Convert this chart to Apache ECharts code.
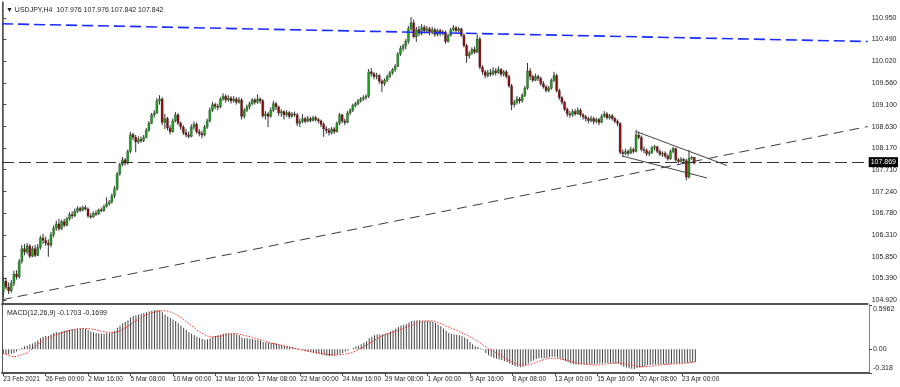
<!DOCTYPE html>
<html><head><meta charset="utf-8">
<script src="https://cdn.jsdelivr.net/npm/echarts@6/dist/echarts.min.js"></script>
<style>html,body{margin:0;padding:0;background:#fff}#c{width:900px;height:387px}</style>
</head><body><div id="c"></div>
<script>
// ---- data ----
const opens = [
105.10,105.33,105.20,105.12,105.28,105.48,105.42,105.75,106.02,105.95,
106.08,105.86,106.02,105.88,106.05,106.25,106.20,106.14,106.10,106.32,
106.46,106.55,106.45,106.60,106.52,106.66,106.75,106.72,106.82,106.88,
106.84,106.90,106.87,106.72,106.70,106.78,106.76,106.85,106.83,106.92,
106.98,107.02,107.15,107.30,107.62,107.82,107.92,107.85,108.10,108.46,
108.40,108.30,108.36,108.33,108.40,108.55,108.70,108.88,108.92,109.18,
109.22,108.72,108.80,108.60,108.52,108.75,108.88,108.70,108.62,108.50,
108.45,108.42,108.62,108.68,108.52,108.48,108.45,108.62,108.75,108.98,
109.10,109.06,109.05,109.22,109.28,109.20,109.24,109.18,109.22,109.15,
109.20,108.85,108.98,109.05,109.12,109.20,109.15,109.22,109.18,108.86,
108.90,108.85,108.98,109.12,109.05,108.92,108.95,108.88,108.93,108.85,
108.90,108.88,108.70,108.74,108.80,108.74,108.80,108.76,108.82,108.78,
108.75,108.68,108.58,108.55,108.50,108.58,108.52,108.70,108.88,108.75,
108.72,108.92,108.98,109.08,109.12,109.18,109.22,109.25,109.28,109.80,
109.76,109.70,109.72,109.60,109.55,109.62,109.70,109.78,109.85,109.92,
110.18,110.30,110.35,110.45,110.72,110.85,110.55,110.70,110.62,110.75,
110.68,110.72,110.64,110.70,110.60,110.68,110.62,110.65,110.45,110.58,
110.70,110.74,110.68,110.72,110.58,110.36,110.14,110.20,110.28,110.22,
110.50,109.90,109.80,109.72,109.78,109.75,109.82,109.78,109.85,109.75,
109.80,109.70,109.50,109.10,109.15,109.22,109.18,109.30,109.45,109.82,
109.70,109.62,109.70,109.66,109.55,109.48,109.40,109.45,109.62,109.72,
109.40,109.25,109.15,109.00,108.90,108.88,108.95,108.90,108.98,108.88,
108.84,108.80,108.76,108.80,108.74,108.78,108.72,108.85,108.90,108.82,
108.86,108.80,108.74,108.70,108.08,108.05,108.10,108.06,108.14,108.10,
108.45,108.40,108.14,108.12,108.05,108.08,108.18,108.20,108.10,108.04,
108.06,108.00,107.94,108.10,108.16,107.92,107.88,107.93,107.90,107.55,
107.95,107.976];
const highs = [
105.42,105.40,105.30,105.35,105.55,105.56,105.80,106.10,106.12,106.14,
106.12,106.08,106.10,106.12,106.30,106.34,106.28,106.22,106.38,106.52,
106.62,106.66,106.64,106.66,106.70,106.80,106.82,106.88,106.93,106.92,
106.94,106.95,106.90,106.78,106.82,106.84,106.88,106.90,106.96,107.12,
107.06,107.20,107.36,107.66,107.86,107.98,107.96,108.14,108.52,108.50,
108.45,108.42,108.42,108.45,108.60,108.75,108.92,108.98,109.24,109.30,
109.26,108.90,108.84,108.66,108.80,108.94,108.92,108.74,108.66,108.58,
108.52,108.68,108.74,108.72,108.58,108.54,108.66,108.80,109.04,109.16,
109.14,109.12,109.26,109.34,109.32,109.30,109.28,109.28,109.26,109.26,
109.24,109.02,109.10,109.16,109.24,109.24,109.32,109.26,109.22,108.96,
108.94,109.04,109.18,109.16,109.08,109.00,108.98,108.98,108.96,108.94,
108.95,108.92,108.80,108.90,108.84,108.86,108.84,108.86,108.86,108.82,
108.78,108.72,108.64,108.60,108.62,108.62,108.74,108.92,108.90,108.80,
108.96,109.02,109.12,109.16,109.22,109.26,109.30,109.32,109.86,109.88,
109.80,109.78,109.75,109.64,109.66,109.74,109.82,109.88,109.96,110.22,
110.36,110.40,110.50,110.78,110.97,110.92,110.76,110.78,110.82,110.80,
110.78,110.76,110.76,110.74,110.72,110.72,110.70,110.68,110.62,110.74,
110.80,110.78,110.76,110.74,110.62,110.40,110.24,110.32,110.34,110.60,
110.55,109.94,109.84,109.84,109.86,109.90,109.88,109.92,109.88,109.84,
109.84,109.74,109.54,109.20,109.28,109.26,109.34,109.50,109.99,109.88,
109.74,109.76,109.74,109.70,109.60,109.52,109.50,109.66,109.80,109.76,
109.44,109.28,109.18,109.04,108.96,109.00,109.00,109.04,109.02,108.92,
108.88,108.84,108.86,108.84,108.82,108.82,108.90,108.96,108.94,108.90,
108.90,108.84,108.78,108.72,108.14,108.16,108.14,108.20,108.18,108.56,
108.52,108.44,108.20,108.16,108.12,108.22,108.24,108.22,108.14,108.10,
108.10,108.04,108.14,108.20,108.18,107.96,107.98,107.96,107.94,108.13,
108.00,107.976];
const lows = [
104.98,105.15,105.05,105.08,105.22,105.36,105.38,105.70,105.88,105.90,
105.82,105.84,105.84,105.86,106.00,106.12,106.08,105.85,106.05,106.26,
106.40,106.40,106.42,106.48,106.50,106.62,106.66,106.70,106.78,106.80,
106.82,106.84,106.68,106.66,106.68,106.72,106.74,106.80,106.81,106.90,
106.94,106.98,107.10,107.26,107.58,107.78,107.80,107.82,108.06,108.34,
108.08,108.26,108.28,108.30,108.38,108.52,108.68,108.82,108.90,109.10,
108.66,108.58,108.55,108.46,108.50,108.72,108.66,108.56,108.45,108.40,
108.38,108.40,108.56,108.48,108.42,108.38,108.42,108.58,108.72,108.94,
109.00,108.98,109.02,109.18,109.14,109.16,109.12,109.14,109.10,109.12,
108.78,108.80,108.94,109.00,109.08,109.10,109.12,109.12,108.82,108.78,
108.62,108.82,108.94,108.98,108.86,108.84,108.78,108.84,108.80,108.82,
108.84,108.64,108.62,108.70,108.70,108.72,108.72,108.74,108.74,108.70,
108.62,108.41,108.48,108.44,108.46,108.47,108.50,108.66,108.70,108.66,
108.70,108.88,108.94,109.04,109.08,109.14,109.18,109.20,109.24,109.70,
109.64,109.64,109.55,109.37,109.50,109.58,109.66,109.74,109.80,109.90,
110.14,110.24,110.28,110.40,110.68,110.52,110.44,110.56,110.58,110.62,
110.62,110.58,110.60,110.55,110.56,110.56,110.58,110.40,110.42,110.55,
110.66,110.64,110.64,110.54,110.32,109.99,110.08,110.16,110.18,110.20,
109.86,109.74,109.66,109.68,109.70,109.72,109.72,109.76,109.70,109.70,
109.66,109.46,108.98,109.04,109.10,109.12,109.14,109.26,109.42,109.62,
109.58,109.60,109.60,109.50,109.44,109.36,109.36,109.42,109.58,109.36,
109.20,109.10,108.96,108.84,108.82,108.84,108.86,108.88,108.84,108.78,
108.74,108.70,108.72,108.68,108.70,108.66,108.70,108.82,108.78,108.78,
108.76,108.70,108.64,108.04,107.98,108.02,108.00,108.04,108.06,108.08,
108.36,108.10,108.06,108.00,108.00,108.04,108.12,108.06,108.00,107.98,
107.96,107.90,107.92,108.06,107.88,107.84,107.86,107.86,107.48,107.52,
107.92,107.842];
const closes = [
105.33,105.20,105.12,105.28,105.48,105.42,105.75,106.02,105.95,106.08,
105.86,106.02,105.88,106.05,106.25,106.20,106.14,106.10,106.32,106.46,
106.55,106.45,106.60,106.52,106.66,106.75,106.72,106.82,106.88,106.84,
106.90,106.87,106.72,106.70,106.78,106.76,106.85,106.83,106.92,106.98,
107.02,107.15,107.30,107.62,107.82,107.92,107.85,108.10,108.46,108.40,
108.30,108.36,108.33,108.40,108.55,108.70,108.88,108.92,109.18,109.22,
108.72,108.80,108.60,108.52,108.75,108.88,108.70,108.62,108.50,108.45,
108.42,108.62,108.68,108.52,108.48,108.45,108.62,108.75,108.98,109.10,
109.06,109.05,109.22,109.28,109.20,109.24,109.18,109.22,109.15,109.20,
108.85,108.98,109.05,109.12,109.20,109.15,109.22,109.18,108.86,108.90,
108.85,108.98,109.12,109.05,108.92,108.95,108.88,108.93,108.85,108.90,
108.88,108.70,108.74,108.80,108.74,108.80,108.76,108.82,108.78,108.75,
108.68,108.58,108.55,108.50,108.58,108.52,108.70,108.88,108.75,108.72,
108.92,108.98,109.08,109.12,109.18,109.22,109.25,109.28,109.80,109.76,
109.70,109.72,109.60,109.55,109.62,109.70,109.78,109.85,109.92,110.18,
110.30,110.35,110.45,110.72,110.85,110.55,110.70,110.62,110.75,110.68,
110.72,110.64,110.70,110.60,110.68,110.62,110.65,110.45,110.58,110.70,
110.74,110.68,110.72,110.58,110.36,110.14,110.20,110.28,110.22,110.50,
109.90,109.80,109.72,109.78,109.75,109.82,109.78,109.85,109.75,109.80,
109.70,109.50,109.10,109.15,109.22,109.18,109.30,109.45,109.82,109.70,
109.62,109.70,109.66,109.55,109.48,109.40,109.45,109.62,109.72,109.40,
109.25,109.15,109.00,108.90,108.88,108.95,108.90,108.98,108.88,108.84,
108.80,108.76,108.80,108.74,108.78,108.72,108.85,108.90,108.82,108.86,
108.80,108.74,108.70,108.08,108.05,108.10,108.06,108.14,108.10,108.45,
108.40,108.14,108.12,108.05,108.08,108.18,108.20,108.10,108.04,108.06,
108.00,107.94,108.10,108.16,107.92,107.88,107.93,107.90,107.55,107.95,
107.976,107.842];
const macdMain = [
-0.06,-0.07,-0.07,-0.06,-0.05,-0.03,-0.01,0.02,0.04,0.05,
0.07,0.08,0.10,0.12,0.15,0.17,0.18,0.18,0.20,0.22,
0.23,0.23,0.24,0.25,0.26,0.265,0.27,0.275,0.28,0.28,
0.28,0.275,0.26,0.24,0.23,0.22,0.215,0.21,0.21,0.215,
0.22,0.23,0.25,0.29,0.32,0.35,0.37,0.39,0.43,0.45,
0.46,0.47,0.48,0.49,0.50,0.51,0.52,0.525,0.53,0.525,
0.50,0.47,0.44,0.42,0.40,0.38,0.35,0.32,0.29,0.26,
0.23,0.21,0.19,0.17,0.155,0.14,0.13,0.135,0.15,0.17,
0.18,0.19,0.20,0.21,0.215,0.215,0.215,0.21,0.20,0.19,
0.16,0.15,0.15,0.14,0.14,0.13,0.125,0.12,0.10,0.095,
0.09,0.085,0.085,0.08,0.07,0.06,0.05,0.045,0.04,0.03,
0.02,0.01,0.00,-0.01,-0.02,-0.03,-0.04,-0.05,-0.055,-0.06,
-0.07,-0.08,-0.085,-0.09,-0.09,-0.085,-0.07,-0.06,-0.05,-0.03,
-0.02,0.00,0.02,0.04,0.05,0.07,0.09,0.11,0.15,0.17,
0.19,0.20,0.20,0.20,0.21,0.22,0.24,0.26,0.28,0.30,
0.32,0.33,0.34,0.36,0.38,0.385,0.39,0.39,0.385,0.385,
0.38,0.38,0.37,0.355,0.33,0.31,0.28,0.25,0.22,0.205,
0.20,0.195,0.19,0.175,0.16,0.14,0.10,0.07,0.04,0.03,
0.01,-0.01,-0.05,-0.08,-0.10,-0.115,-0.125,-0.135,-0.145,-0.16,
-0.175,-0.19,-0.21,-0.225,-0.235,-0.24,-0.235,-0.215,-0.19,-0.165,
-0.15,-0.13,-0.12,-0.12,-0.12,-0.115,-0.105,-0.10,-0.10,-0.11,
-0.125,-0.14,-0.155,-0.175,-0.19,-0.20,-0.205,-0.205,-0.205,-0.20,
-0.20,-0.205,-0.20,-0.20,-0.195,-0.19,-0.19,-0.185,-0.185,-0.185,
-0.185,-0.19,-0.19,-0.215,-0.235,-0.245,-0.255,-0.26,-0.265,-0.25,
-0.245,-0.24,-0.23,-0.215,-0.21,-0.205,-0.205,-0.205,-0.20,-0.20,
-0.20,-0.20,-0.195,-0.19,-0.19,-0.19,-0.185,-0.18,-0.185,-0.18,
-0.175,-0.1703];
const macdSignal = [
-0.05,-0.07,-0.085,-0.095,-0.10,-0.095,-0.085,-0.07,-0.06,-0.05,
-0.02,0.01,0.04,0.07,0.10,0.12,0.14,0.155,0.17,0.185,
0.20,0.21,0.22,0.235,0.245,0.255,0.262,0.268,0.274,0.278,
0.28,0.28,0.278,0.275,0.27,0.262,0.252,0.243,0.236,0.23,
0.228,0.228,0.23,0.236,0.25,0.27,0.29,0.31,0.335,0.36,
0.385,0.41,0.43,0.45,0.465,0.48,0.492,0.502,0.51,0.516,
0.52,0.518,0.512,0.502,0.49,0.47,0.45,0.425,0.40,0.37,
0.345,0.315,0.29,0.26,0.235,0.215,0.195,0.18,0.17,0.168,
0.17,0.173,0.178,0.185,0.195,0.203,0.21,0.213,0.21,0.203,
0.195,0.187,0.178,0.17,0.16,0.15,0.14,0.13,0.12,0.105,
0.095,0.085,0.077,0.07,0.062,0.055,0.045,0.035,0.028,0.02,
0.012,0.005,-0.005,-0.012,-0.02,-0.027,-0.033,-0.038,-0.043,-0.05,
-0.055,-0.06,-0.066,-0.071,-0.075,-0.075,-0.074,-0.072,-0.068,-0.062,
-0.056,-0.048,-0.035,-0.02,-0.005,0.015,0.035,0.06,0.08,0.10,
0.125,0.145,0.165,0.185,0.20,0.21,0.22,0.23,0.24,0.255,
0.27,0.285,0.30,0.315,0.325,0.34,0.355,0.368,0.378,0.382,
0.384,0.384,0.382,0.372,0.358,0.345,0.33,0.315,0.30,0.285,
0.27,0.255,0.238,0.222,0.205,0.19,0.17,0.148,0.128,0.105,
0.08,0.055,0.035,0.01,-0.01,-0.03,-0.05,-0.07,-0.09,-0.11,
-0.135,-0.16,-0.175,-0.19,-0.20,-0.21,-0.212,-0.212,-0.21,-0.20,
-0.19,-0.175,-0.16,-0.148,-0.137,-0.128,-0.122,-0.12,-0.12,-0.123,
-0.13,-0.135,-0.142,-0.15,-0.16,-0.17,-0.178,-0.186,-0.193,-0.198,
-0.202,-0.205,-0.208,-0.21,-0.21,-0.208,-0.203,-0.198,-0.193,-0.19,
-0.187,-0.185,-0.183,-0.185,-0.19,-0.198,-0.205,-0.212,-0.22,-0.227,
-0.232,-0.235,-0.235,-0.232,-0.228,-0.222,-0.216,-0.212,-0.208,-0.205,
-0.203,-0.20,-0.198,-0.196,-0.194,-0.192,-0.19,-0.186,-0.183,-0.18,
-0.175,-0.1699];
const timeLabels = ['23 Feb 2021','26 Feb 00:00','2 Mar 16:00','5 Mar 08:00','10 Mar 00:00','12 Mar 16:00','17 Mar 08:00','22 Mar 00:00','24 Mar 16:00','29 Mar 08:00','1 Apr 00:00','5 Apr 16:00','8 Apr 08:00','13 Apr 00:00','15 Apr 16:00','20 Apr 08:00','23 Apr 00:00'];
const barsPerLabel = 16;
const priceTicks = [104.92,105.39,105.85,106.31,106.78,107.24,107.71,108.17,108.63,109.10,109.56,110.02,110.49,110.95];
const macdTicks = [0.5962, 0, -0.318];
const levelPrice = 107.869;
const blueTrend = [[-0.5,110.826],[326.5,110.448]];
const supportTrend = [[-0.5,104.93],[326.5,108.63]];
const channelUpper = [[239.0,108.525],[273.4,107.798]];
const channelLower = [[233.8,108.001],[265.8,107.531]];
const titleText = '\u25BC USDJPY,H4  107.976 107.976 107.842 107.842';
const macdText = 'MACD(12,26,9) -0.1703 -0.1699';

// ---- layout ----
const SLOTS = 327;
const slots = Array.from({length: SLOTS}, (_, i) => i);
const FONT = 'Tahoma, "Liberation Sans", Arial, sans-serif';
const TXT = '#1e1e1e';
const candleRows = closes.map((c, i) => [i, opens[i], c, lows[i], highs[i]]);

function renderCandle(params, api) {
  const i = api.value(0), o = api.value(1), c = api.value(2), l = api.value(3), h = api.value(4);
  const pH = api.coord([i, h]), pL = api.coord([i, l]), pO = api.coord([i, o]), pC = api.coord([i, c]);
  const bw = api.size([1, 0])[0] * 0.8;
  const top = Math.min(pO[1], pC[1]);
  const hgt = Math.max(Math.abs(pO[1] - pC[1]), 1);
  const up = c >= o;
  return {
    type: 'group',
    children: [
      {type: 'line', shape: {x1: pH[0], y1: pH[1], x2: pL[0], y2: pL[1]}, style: {stroke: '#333', lineWidth: 1}},
      {type: 'rect', shape: {x: pO[0] - bw / 2, y: top, width: bw, height: hgt},
       style: {fill: up ? '#1e9e1e' : '#8a0a0a', stroke: '#333', lineWidth: 0.35}}
    ]
  };
}

const chart = echarts.init(document.getElementById('c'), null, {renderer: 'canvas'});
chart.setOption({
  animation: false,
  backgroundColor: '#ffffff',
  textStyle: {fontFamily: FONT},
  title: [
    {text: titleText, left: 1, top: 2, textStyle: {fontSize: 7, fontWeight: 'normal', color: TXT, fontFamily: FONT}},
    {text: macdText, left: 2, top: 305, textStyle: {fontSize: 7, fontWeight: 'normal', color: TXT, fontFamily: FONT}}
  ],
  grid: [
    {left: 2, width: 867, top: 2, height: 302},
    {left: 2, width: 867, top: 305, height: 68}
  ],
  xAxis: [
    {gridIndex: 0, type: 'value', min: -0.5, max: SLOTS - 0.5,
     axisLine: {show: true, onZero: false, lineStyle: {color: '#555', width: 2}},
     axisTick: {show: false}, axisLabel: {show: false}, splitLine: {show: false}},
    {gridIndex: 1, type: 'category', data: slots, boundaryGap: true,
     axisLine: {show: true, onZero: false, lineStyle: {color: '#555', width: 2}},
     axisTick: {show: true, alignWithLabel: true, length: 3, lineStyle: {color: '#444'},
       interval: (idx) => idx % barsPerLabel === 0 && idx / barsPerLabel < timeLabels.length},
     axisLabel: {show: true, align: 'left', fontSize: 6.5, color: TXT, margin: 3, fontFamily: FONT,
       interval: (idx) => idx % barsPerLabel === 0 && idx / barsPerLabel < timeLabels.length,
       formatter: (v, idx) => timeLabels[idx / barsPerLabel] || ''},
     splitLine: {show: false}}
  ],
  yAxis: [
    {gridIndex: 0, type: 'value', position: 'right', min: 104.839, max: 111.292, scale: true,
     axisLine: {show: true, lineStyle: {color: '#808080', width: 1}},
     axisTick: {show: true, length: 3, customValues: priceTicks, lineStyle: {color: '#444'}},
     axisLabel: {show: true, customValues: priceTicks, formatter: (v) => v.toFixed(3), fontSize: 7, color: TXT, margin: 4, fontFamily: FONT},
     splitLine: {show: false}},
    {gridIndex: 0, type: 'value', position: 'left', min: 0, max: 1,
     axisLine: {show: true, lineStyle: {color: '#555', width: 1}}, axisTick: {show: false}, axisLabel: {show: false}, splitLine: {show: false}},
    {gridIndex: 1, type: 'value', position: 'right', min: -0.318, max: 0.5962,
     axisLine: {show: true, lineStyle: {color: '#808080', width: 1}},
     axisTick: {show: true, length: 3, customValues: macdTicks, lineStyle: {color: '#444'}},
     axisLabel: {show: true, customValues: macdTicks, fontSize: 7, color: TXT, margin: 4, fontFamily: FONT,
       formatter: (v) => v > 0.5 ? '{t|0.5962}' : (v < -0.3 ? '{b|-0.318}' : '0.00'),
       rich: {t: {fontSize: 7, color: TXT, padding: [9, 0, 0, 0], fontFamily: FONT}, b: {fontSize: 7, color: TXT, padding: [0, 0, 9, 0], fontFamily: FONT}}},
     splitLine: {show: false}},
    {gridIndex: 1, type: 'value', position: 'left', min: 0, max: 1,
     axisLine: {show: true, lineStyle: {color: '#555', width: 1}}, axisTick: {show: false}, axisLabel: {show: false}, splitLine: {show: false}}
  ],
  series: [
    {type: 'custom', name: 'USDJPY', xAxisIndex: 0, yAxisIndex: 0, renderItem: renderCandle,
     data: candleRows, encode: {x: 0, y: [1, 2, 3, 4]}, clip: true, z: 2, silent: true},
    {type: 'line', xAxisIndex: 0, yAxisIndex: 0, data: blueTrend, symbol: 'none', silent: true, clip: true, z: 3,
     lineStyle: {color: '#1a2cff', width: 1.6, type: [11, 5]}},
    {type: 'line', xAxisIndex: 0, yAxisIndex: 0, data: supportTrend, symbol: 'none', silent: true, clip: true, z: 3,
     lineStyle: {color: '#3c3c3c', width: 1, type: [10, 6]}},
    {type: 'line', xAxisIndex: 0, yAxisIndex: 0, data: channelUpper, symbol: 'none', silent: true, clip: true, z: 3,
     lineStyle: {color: '#444', width: 1}},
    {type: 'line', xAxisIndex: 0, yAxisIndex: 0, data: channelLower, symbol: 'none', silent: true, clip: true, z: 3,
     lineStyle: {color: '#444', width: 1}},
    {type: 'line', xAxisIndex: 0, yAxisIndex: 0, data: [], symbol: 'none', silent: true, z: 3,
     markLine: {silent: true, symbol: 'none', animation: false,
       lineStyle: {color: '#333', width: 1, type: [12, 5]},
       label: {show: true, position: 'end', distance: 1, formatter: levelPrice.toFixed(3), backgroundColor: '#000', color: '#fff',
         padding: [2, 2, 1, 2], fontSize: 7, fontFamily: FONT},
       data: [{yAxis: levelPrice}]}},
    {type: 'bar', name: 'MACD', xAxisIndex: 1, yAxisIndex: 2, data: macdMain, barWidth: 1, silent: true,
     itemStyle: {color: '#444'}},
    {type: 'line', name: 'Signal', xAxisIndex: 1, yAxisIndex: 2, data: macdSignal, symbol: 'none', silent: true, z: 4,
     lineStyle: {color: '#ff2a2a', width: 1, type: [1.5, 1.5]}}
  ]
});
</script>
</body></html>
